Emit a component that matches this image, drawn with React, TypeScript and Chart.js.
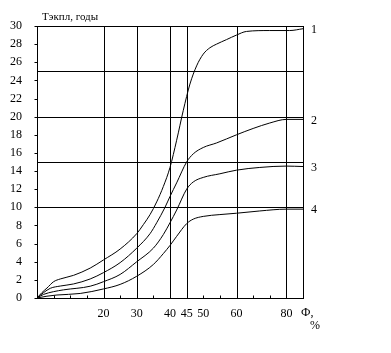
import React, { useEffect, useRef } from 'react';
import { Chart, registerables } from 'chart.js';
Chart.register(...registerables);

// Curve 1
const x1 = [0, 1.5, 3, 5, 7, 11, 16, 20, 25, 30, 32, 34, 36, 38, 40, 42, 44, 46, 48, 50, 52, 54, 57, 60, 63, 70, 76, 80];
const y1 = [0, 0.6, 1.1, 1.8, 2.1, 2.5, 3.3, 4.2, 5.4, 7.1, 8.1, 9.2, 10.6, 12.3, 14.4, 17.4, 20.7, 23.6, 25.6, 26.9, 27.6, 28.0, 28.5, 29.0, 29.4, 29.5, 29.5, 29.7];
// Curve 2
const x2 = [0, 2, 4, 7, 11, 16, 20, 25, 30, 34, 36, 38.5, 40, 42, 45, 47, 50, 54, 60, 65, 70, 75, 80];
const y2 = [0, 0.6, 1.07, 1.32, 1.55, 2.1, 2.8, 3.9, 5.5, 7.1, 8.3, 10.0, 11.2, 12.7, 15.0, 15.9, 16.6, 17.1, 18.0, 18.7, 19.3, 19.7, 19.7];
// Curve 3
const x3 = [0, 2, 5, 8, 16, 20, 25, 30, 35, 38, 40, 42, 45, 47, 50, 55, 60, 67, 75, 80];
const y3 = [0, 0.4, 0.7, 0.9, 1.3, 1.8, 2.6, 4.0, 5.5, 7.0, 8.3, 9.7, 12.0, 12.8, 13.3, 13.7, 14.1, 14.4, 14.55, 14.5];
// Curve 4
const x4 = [0, 3, 6, 13, 20, 25, 30, 35, 38, 40, 42, 45, 47, 50, 55, 60, 67, 75, 80];
const y4 = [0, 0.2, 0.33, 0.5, 1.0, 1.5, 2.4, 3.7, 4.9, 5.8, 6.8, 8.2, 8.7, 9.0, 9.2, 9.35, 9.6, 9.8, 9.8];

const curveLabels = ['1', '2', '3', '4'];
const xTickValues = [20, 30, 40, 45, 50, 60, 75];
const xTickLabels = ['20', '30', '40', '45', '50', '60', '80'];
const xGridValues = [20, 30, 40, 45, 60, 75];
const yGridValues = [10, 15, 20, 25];
const yTitle = 'Тэкпл, годы';
const xTitle = 'Ф,';
const xUnit = '%';

const FONT = "'Liberation Serif', 'Times New Roman', serif";

export default function App() {
  const ref = useRef<HTMLCanvasElement | null>(null);
  useEffect(() => {
    if (!ref.current) return;
    const series = [
      [x1, y1],
      [x2, y2],
      [x3, y3],
      [x4, y4],
    ];
    const overlay = {
      id: 'overlay',
      beforeDatasetsDraw(chart: any) {
        const { ctx, chartArea: a, scales } = chart;
        const xs = scales.x;
        const ys = scales.y;
        const r = (v: number) => Math.round(v) + 0.5;
        ctx.save();
        ctx.strokeStyle = '#000';
        ctx.lineWidth = 1;
        ctx.beginPath();
        yGridValues.forEach((v) => {
          const py = r(ys.getPixelForValue(v));
          ctx.moveTo(a.left, py);
          ctx.lineTo(a.right, py);
        });
        xGridValues.forEach((v) => {
          const px = r(xs.getPixelForValue(v));
          ctx.moveTo(px, a.top);
          ctx.lineTo(px, a.bottom);
        });
        ctx.stroke();
        ctx.strokeRect(r(a.left), r(a.top), Math.round(a.right - a.left), Math.round(a.bottom - a.top));
        ctx.beginPath();
        for (let v = 0; v <= 30; v += 2) {
          const py = r(ys.getPixelForValue(v));
          ctx.moveTo(r(a.left) - 3, py);
          ctx.lineTo(r(a.left), py);
        }
        for (let v = 5; v < 80; v += 5) {
          const px = r(xs.getPixelForValue(v));
          ctx.moveTo(px, r(a.bottom));
          ctx.lineTo(px, r(a.bottom) - 3);
        }
        ctx.stroke();
        ctx.restore();
      },
      afterDraw(chart: any) {
        const { ctx, chartArea: a, scales } = chart;
        const ys = scales.y;
        ctx.save();
        ctx.fillStyle = '#000';
        ctx.font = `12px ${FONT}`;
        ctx.textBaseline = 'middle';
        ctx.textAlign = 'left';
        series.forEach((s, i) => {
          const last = s[1][s[1].length - 1];
          ctx.fillText(curveLabels[i], a.right + 8, ys.getPixelForValue(last) + 1);
        });
        ctx.font = `11px ${FONT}`;
        ctx.fillText(yTitle, 42, 17);
        ctx.font = `12px ${FONT}`;
        ctx.fillText(xTitle, a.right - 2, 313);
        ctx.fillText(xUnit, a.right + 7, 326);
        ctx.restore();
      },
    };
    const chart = new Chart(ref.current, {
      type: 'line',
      data: {
        datasets: series.map((s) => ({
          data: s[0].map((x, i) => ({ x, y: s[1][i] })),
          borderColor: '#000',
          borderWidth: 1,
          pointRadius: 0,
          fill: false,
          tension: 0.3,
          cubicInterpolationMode: 'monotone' as const,
        })),
      },
      plugins: [overlay],
      options: {
        responsive: false,
        animation: false,
        devicePixelRatio: 1,
        layout: { padding: { top: 26, right: 88, left: 0, bottom: 0 } },
        plugins: { legend: { display: false }, tooltip: { enabled: false } },
        scales: {
          x: {
            type: 'linear',
            min: 0,
            max: 80,
            grid: { display: false },
            border: { display: false },
            afterFit: (s: any) => {
              s.height = 55;
            },
            afterBuildTicks: (s: any) => {
              s.ticks = xTickValues.map((v) => ({ value: v }));
            },
            ticks: {
              padding: 1,
              autoSkip: false,
              maxRotation: 0,
              color: '#000',
              font: { family: FONT, size: 12 },
              callback: (v: any) => {
                const i = xTickValues.indexOf(Number(v));
                return i >= 0 ? xTickLabels[i] : '';
              },
            },
          },
          y: {
            type: 'linear',
            min: 0,
            max: 30,
            grid: { display: false },
            border: { display: false },
            afterFit: (s: any) => {
              s.width = 37;
            },
            ticks: {
              stepSize: 2,
              padding: 7,
              color: '#000',
              font: { family: FONT, size: 12 },
            },
          },
        },
      },
    });
    return () => chart.destroy();
  }, []);
  return (
    <div style={{ position: 'fixed', left: 0, top: 0, width: 391, height: 353, background: '#fff' }}>
      <canvas ref={ref} width={391} height={353} style={{ width: 391, height: 353, display: 'block' }} />
    </div>
  );
}
